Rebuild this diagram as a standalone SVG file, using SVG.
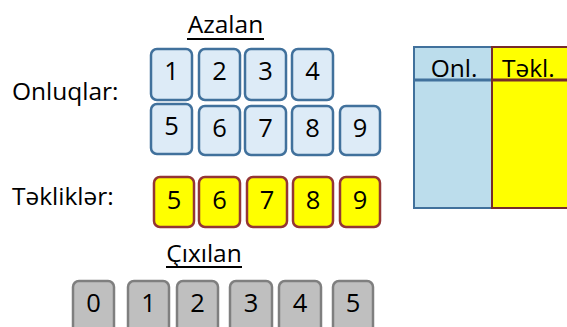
<svg xmlns="http://www.w3.org/2000/svg" width="567" height="327" viewBox="0 0 567 327">
<style>
text{font-family:"Open Sans","Noto Sans","Liberation Sans",sans-serif;fill:#000}
.lbl{font-size:24.5px}
.dg{font-size:25.5px;text-anchor:middle}
.blue{fill:#DDEBF7;stroke:#41719C;stroke-width:2.5}
.yel{fill:#FFFF00;stroke:#943634;stroke-width:2.5}
.gray{fill:#BFBFBF;stroke:#7F7F7F;stroke-width:2.5}
.ul{stroke:#000;stroke-width:2}
</style>
<rect width="567" height="327" fill="#fff"/>
<g id="azalan-title"><text class="lbl" x="225.5" y="33" text-anchor="middle">Azalan</text><line class="ul" x1="187" y1="39" x2="264" y2="39"/></g>
<g id="onluqlar-label"><text class="lbl" x="12" y="99.5">Onluqlar:</text></g>
<g id="teklikler-label"><text class="lbl" x="12" y="205">Təkliklər:</text></g>
<g id="cixilan-title"><text class="lbl" x="204" y="262" text-anchor="middle">Çıxılan</text><line class="ul" x1="166" y1="267" x2="242" y2="267"/></g>

<g id="on-1"><rect class="blue" x="151" y="49" width="41" height="51" rx="6"/><text class="dg" x="171.5" y="80">1</text></g>
<g id="on-2"><rect class="blue" x="199" y="49" width="41" height="51" rx="6"/><text class="dg" x="219.5" y="80">2</text></g>
<g id="on-3"><rect class="blue" x="245" y="49" width="41" height="51" rx="6"/><text class="dg" x="265.5" y="80">3</text></g>
<g id="on-4"><rect class="blue" x="292" y="49" width="41" height="51" rx="6"/><text class="dg" x="312.5" y="80">4</text></g>
<g id="on-5"><rect class="blue" x="151" y="104" width="41" height="50" rx="6"/><text class="dg" x="171.5" y="135">5</text></g>
<g id="on-6"><rect class="blue" x="199" y="106" width="41" height="49" rx="6"/><text class="dg" x="219.5" y="137">6</text></g>
<g id="on-7"><rect class="blue" x="245" y="106" width="41" height="49" rx="6"/><text class="dg" x="265.5" y="137">7</text></g>
<g id="on-8"><rect class="blue" x="292" y="106" width="41" height="49" rx="6"/><text class="dg" x="312.5" y="137">8</text></g>
<g id="on-9"><rect class="blue" x="340" y="106" width="40" height="49" rx="6"/><text class="dg" x="360" y="137">9</text></g>

<g id="tek-5"><rect class="yel" x="154" y="177" width="40" height="50" rx="6"/><text class="dg" x="174" y="209">5</text></g>
<g id="tek-6"><rect class="yel" x="199" y="177" width="41" height="50" rx="6"/><text class="dg" x="219.5" y="209">6</text></g>
<g id="tek-7"><rect class="yel" x="247" y="177" width="40" height="50" rx="6"/><text class="dg" x="267" y="209">7</text></g>
<g id="tek-8"><rect class="yel" x="293" y="177" width="40" height="50" rx="6"/><text class="dg" x="313" y="209">8</text></g>
<g id="tek-9"><rect class="yel" x="340" y="177" width="40" height="50" rx="6"/><text class="dg" x="360" y="209">9</text></g>

<g id="cx-0"><rect class="gray" x="73" y="281" width="41" height="52" rx="6"/><text class="dg" x="93.5" y="312">0</text></g>
<g id="cx-1"><rect class="gray" x="128" y="281" width="41" height="52" rx="6"/><text class="dg" x="148.5" y="312">1</text></g>
<g id="cx-2"><rect class="gray" x="177" y="281" width="41" height="52" rx="6"/><text class="dg" x="197.5" y="312">2</text></g>
<g id="cx-3"><rect class="gray" x="230" y="281" width="42" height="52" rx="6"/><text class="dg" x="251" y="312">3</text></g>
<g id="cx-4"><rect class="gray" x="279" y="281" width="42" height="52" rx="6"/><text class="dg" x="300" y="312">4</text></g>
<g id="cx-5"><rect class="gray" x="333" y="281" width="40" height="52" rx="6"/><text class="dg" x="353" y="312">5</text></g>

<g id="table-onl">
<rect x="414" y="47" width="78" height="161" fill="#BCDDEC" stroke="#41719C" stroke-width="2"/>
<line x1="414" y1="80" x2="492" y2="80" stroke="#41719C" stroke-width="3"/>
<text x="454" y="76.5" font-size="24.5" text-anchor="middle">Onl.</text>
</g>
<g id="table-tekl">
<rect x="492" y="47" width="85" height="161" fill="#FFFF00" stroke="#772C2A" stroke-width="2"/>
<line x1="492" y1="80" x2="567" y2="80" stroke="#772C2A" stroke-width="3"/>
<text x="502" y="76.5" font-size="24.5">Təkl.</text>
</g>
</svg>
